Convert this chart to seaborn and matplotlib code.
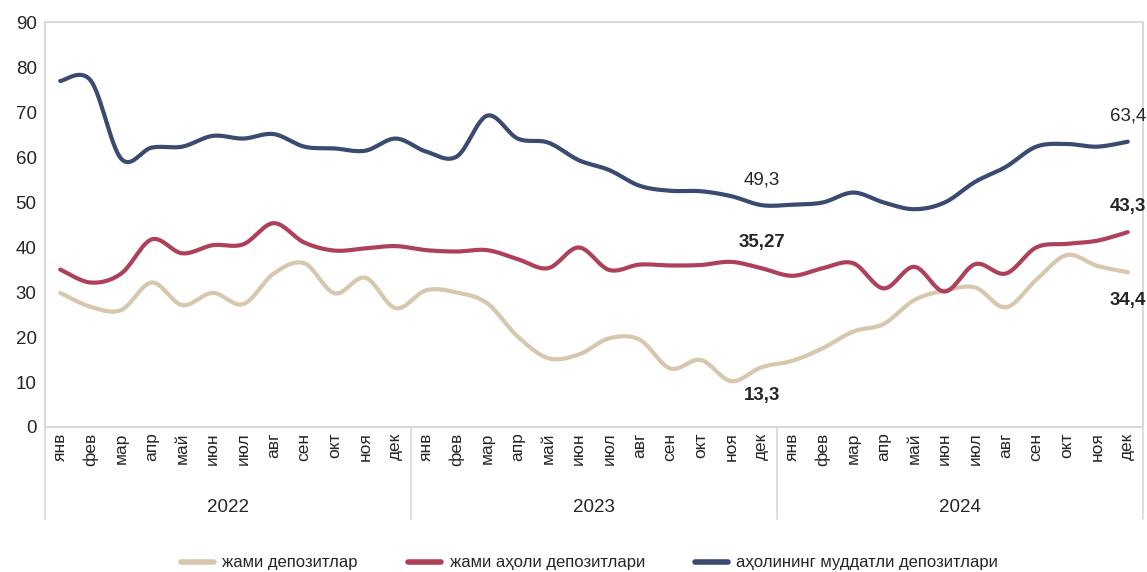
import numpy as np
import pandas as pd
import seaborn as sns
import matplotlib.pyplot as plt
from matplotlib.lines import Line2D

# ---------------------------
# DATA
# ---------------------------
months = ["янв", "фев", "мар", "апр", "май", "июн",
          "июл", "авг", "сен", "окт", "ноя", "дек"]
years = ["2022", "2023", "2024"]

total_deposits = [29.8, 26.7, 26.0, 32.1, 27.1, 29.8, 27.3, 34.1, 36.4, 29.7, 33.2, 26.4,
                  30.4, 29.9, 27.5, 20.1, 15.3, 16.1, 19.7, 19.4, 13.0, 14.9, 10.2, 13.3,
                  14.7, 17.5, 21.2, 22.9, 28.2, 30.3, 31.0, 26.6, 32.7, 38.2, 35.8, 34.4]
household_deposits = [35.0, 32.1, 34.1, 41.7, 38.6, 40.4, 40.6, 45.3, 41.0, 39.2, 39.7, 40.2,
                      39.3, 39.0, 39.3, 37.3, 35.3, 39.9, 34.9, 36.1, 35.9, 36.0, 36.7, 35.27,
                      33.6, 35.3, 36.4, 30.8, 35.6, 30.1, 36.2, 34.1, 39.9, 40.7, 41.4, 43.3]
household_term = [76.9, 77.0, 59.6, 62.1, 62.3, 64.7, 64.1, 65.1, 62.3, 61.9, 61.4, 64.1,
                  61.2, 60.1, 69.2, 64.1, 63.2, 59.3, 57.1, 53.6, 52.5, 52.4, 51.3, 49.3,
                  49.4, 49.9, 52.1, 49.9, 48.4, 49.9, 54.5, 57.8, 62.3, 62.9, 62.3, 63.4]

series_names = ["жами депозитлар", "жами аҳоли депозитлари", "аҳолининг муддатли депозитлари"]
colors = ["#D6C7AE", "#AE4159", "#3A4A70"]

month_labels = months * len(years)
idx = np.arange(len(month_labels))


def smooth(x, y, n=16):
    # Catmull-Rom path through the points, like the spreadsheet's smoothed line
    x = np.asarray(x, float)
    y = np.asarray(y, float)
    px = np.r_[x[0], x, x[-1]]
    py = np.r_[y[0], y, y[-1]]
    t = np.linspace(0, 1, n, endpoint=False)
    xs, ys = [], []
    for i in range(1, len(px) - 2):
        for p, out in ((px, xs), (py, ys)):
            p0, p1, p2, p3 = p[i - 1], p[i], p[i + 1], p[i + 2]
            out.extend(0.5 * ((2 * p1) + (-p0 + p2) * t
                              + (2 * p0 - 5 * p1 + 4 * p2 - p3) * t ** 2
                              + (-p0 + 3 * p1 - 3 * p2 + p3) * t ** 3))
    xs.append(x[-1])
    ys.append(y[-1])
    return np.array(xs), np.array(ys)


sns.set_style("white")
plt.rcParams["font.family"] = ["Liberation Sans", "DejaVu Sans"]

fig = plt.figure(figsize=(11.47, 5.72), dpi=100)
ax = fig.add_axes([0.0392, 0.2535, 0.9573, 0.708])

for vals, name, c in zip([total_deposits, household_deposits, household_term], series_names, colors):
    sx, sy = smooth(idx, vals)
    sns.lineplot(x=sx, y=sy, ax=ax, color=c, linewidth=3, sort=False,
                 estimator=None, label=name, legend=False)

ax.set_xlim(-0.5, len(idx) - 0.5)
ax.set_ylim(0, 90)
ax.set_yticks(range(0, 91, 10))
ax.tick_params(axis="y", labelsize=13.5, length=0, pad=6)
ax.set_xticks(idx)
ax.set_xticklabels(month_labels, rotation=90, fontsize=12.5)
ax.tick_params(axis="x", length=0, pad=4)
for s in ax.spines.values():
    s.set_color("#D9D9D9")
    s.set_linewidth(1.5)

# year groups below the month labels
trans = ax.get_xaxis_transform()
for k, yr in enumerate(years):
    ax.text(k * 12 + 5.5, -0.2, yr, transform=trans, ha="center", va="center", fontsize=13.5)
for b in [-0.5, 11.5, 23.5, 35.5]:
    ax.plot([b, b], [0, -0.227], transform=trans, color="#D9D9D9", lw=1.2, clip_on=False)

# value labels
ax.text(35, 69.1, "63,4", ha="center", va="center", fontsize=13.5)
ax.text(23, 54.9, "49,3", ha="center", va="center", fontsize=13.5)
ax.text(23, 41.1, "35,27", ha="center", va="center", fontsize=13.5, fontweight="bold")
ax.text(23, 7.1, "13,3", ha="center", va="center", fontsize=13.5, fontweight="bold")
ax.text(35, 48.9, "43,3", ha="center", va="center", fontsize=13.5, fontweight="bold")
ax.text(35, 28.2, "34,4", ha="center", va="center", fontsize=13.5, fontweight="bold")

handles = [Line2D([], [], color=c, lw=4) for c in colors]
fig.legend(handles, series_names, loc="center", bbox_to_anchor=(0.514, 0.016),
           ncol=3, frameon=False, fontsize=12, handlelength=2.0,
           columnspacing=3.0, handletextpad=0.5)

fig.savefig("out.png", dpi=100)
